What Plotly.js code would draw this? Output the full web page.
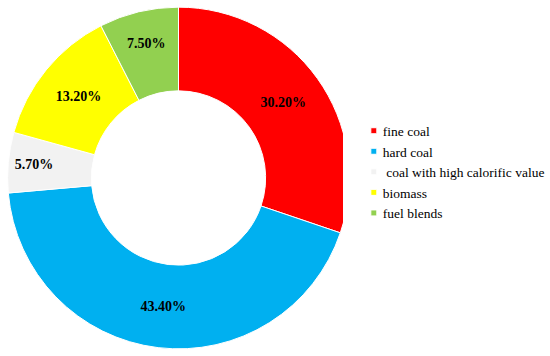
<!DOCTYPE html>
<html>
<head>
<meta charset="utf-8">
<script src="https://cdn.plot.ly/plotly-3.0.1.min.js"></script>
<style>
  html, body { margin: 0; padding: 0; background: #fff; }
  #chart { width: 550px; height: 356px; }
</style>
</head>
<body>
<div id="chart"></div>
<script>
var fuelTypes = ['fine coal', 'hard coal', '\u00a0coal with high calorific value', 'biomass', 'fuel blends'];
var shares = [30.2, 43.4, 5.7, 13.2, 7.5];
var sliceColors = ['#ff0000', '#00b0f0', '#f2f2f2', '#ffff00', '#92d050'];

var data = [{
  type: 'pie',
  labels: fuelTypes,
  values: shares,
  sort: false,
  direction: 'clockwise',
  rotation: 0,
  hole: 0.51,
  marker: { colors: sliceColors, line: { color: '#ffffff', width: 1 } },
  texttemplate: '%{value:.2f}%',
  textposition: 'inside',
  insidetextorientation: 'horizontal',
  textfont: { family: 'Liberation Serif', size: 14, color: '#000', weight: 'bold' },
  domain: { x: [8 / 550, 366 / 550], y: [0, 1] },
  hoverinfo: 'label+percent'
}];

var layout = {
  width: 550,
  height: 356,
  margin: { l: 0, r: 0, t: 0, b: 0 },
  paper_bgcolor: '#fff',
  showlegend: true,
  legend: {
    x: 0.653, y: 0.517, xanchor: 'left', yanchor: 'middle',
    font: { family: 'Liberation Serif', size: 13.5, color: '#000' },
    itemwidth: 30,
    tracegroupgap: 0
  }
};

Plotly.newPlot('chart', data, layout, { displayModeBar: false, staticPlot: true }).then(function (gd) {
  // smaller legend swatches sitting close to the text, as in the original
  gd.querySelectorAll('.legend .legendpoints path').forEach(function (p) {
    p.setAttribute('d', 'M14,3H8V-3H14Z');
  });
});
</script>
</body>
</html>
